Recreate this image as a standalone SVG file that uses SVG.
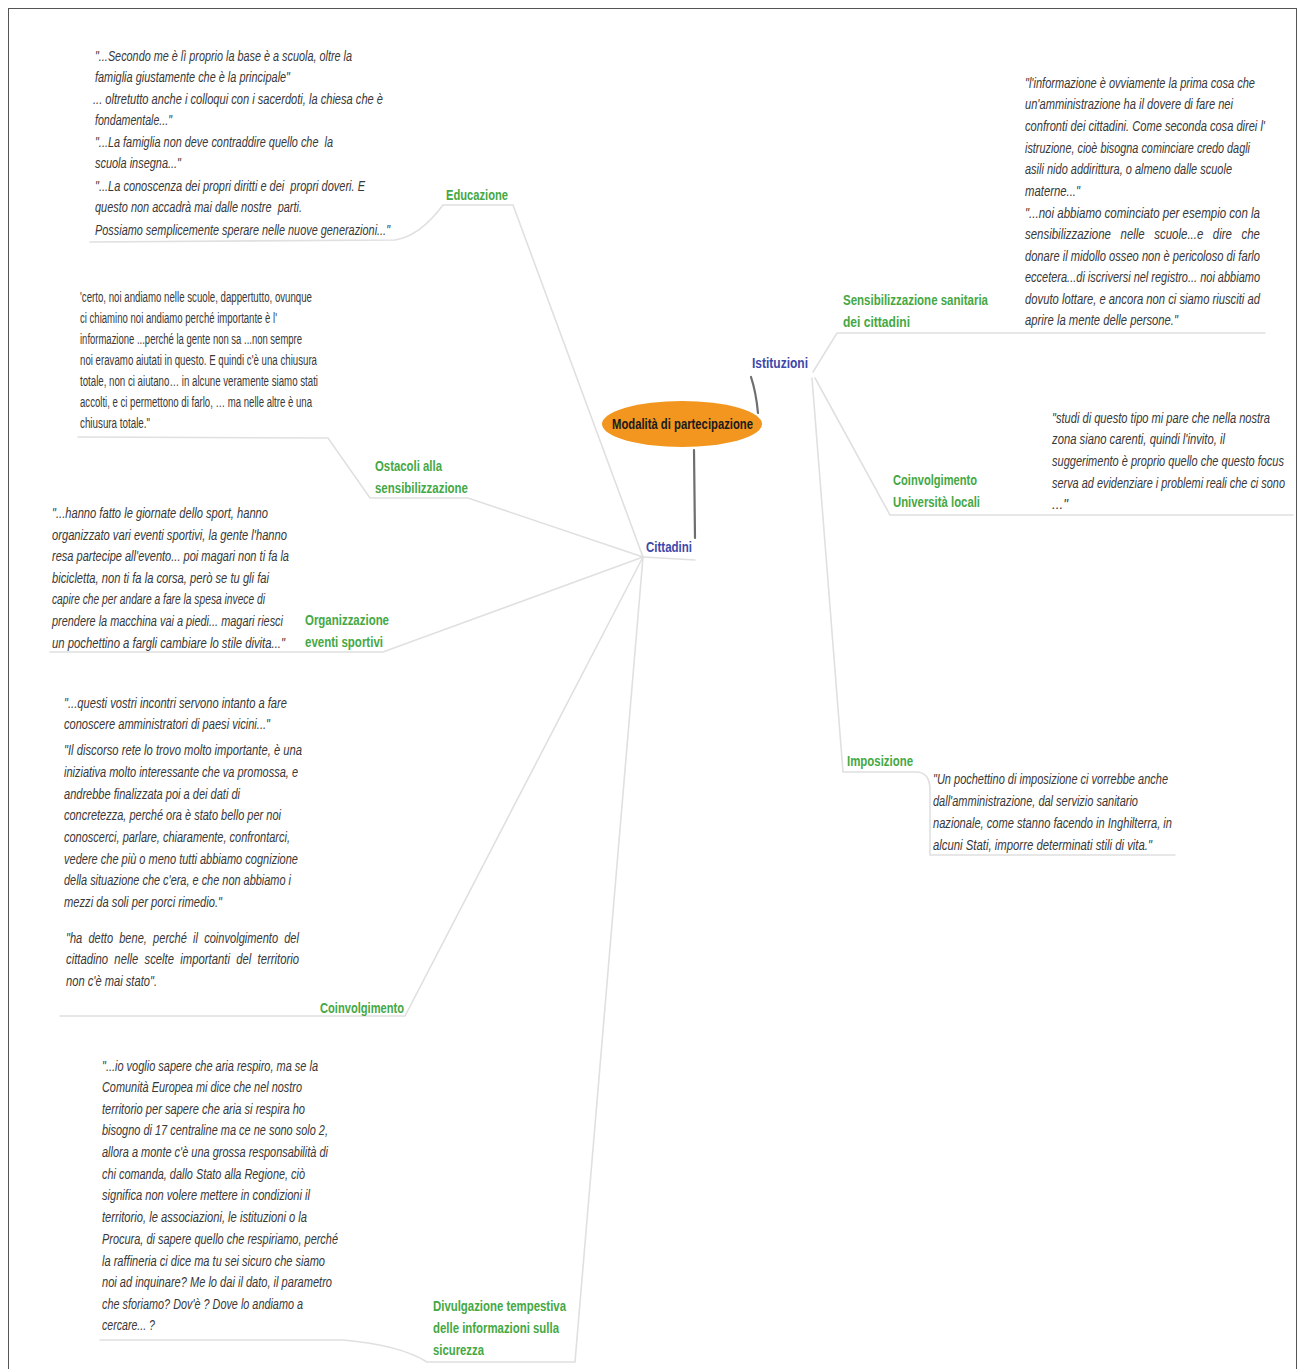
<svg xmlns="http://www.w3.org/2000/svg" width="1298" height="1369" viewBox="0 0 1298 1369">
  <style>
    .q { font-family: "Liberation Sans", Arial, sans-serif; font-size: 14px; font-style: italic; fill: #383838; }
    .qn { font-family: "Liberation Sans", Arial, sans-serif; font-size: 14px; fill: #383838; }
    .pre { white-space: pre; }
    .g { font-family: "Liberation Sans", Arial, sans-serif; font-size: 15px; font-weight: bold; fill: #44a844; }
    .b { font-family: "Liberation Sans", Arial, sans-serif; font-size: 15px; font-weight: bold; fill: #3d47a8; }
    .root { font-family: "Liberation Sans", Arial, sans-serif; font-size: 14px; font-weight: bold; fill: #1a1a1a; }
    .c { fill: none; stroke: #e0e0e0; stroke-width: 1.6; stroke-linecap: round; }
    .d { fill: none; stroke: #6e6e6e; stroke-width: 2.2; stroke-linecap: round; }
  </style>

  <rect x="0" y="0" width="1298" height="1369" fill="#ffffff"/>
  <rect x="8.5" y="8.5" width="1288" height="1380" fill="none" stroke="#555" stroke-width="1"/>

  <!-- connectors -->
  <g id="connectors">
    <path class="d" d="M758,413 Q756,392 751,377"/>
    <path class="d" d="M694,450 L695,538"/>
    <!-- Istituzioni branches -->
    <path class="c" d="M813,372 L837,333 L1265,333"/>
    <path class="c" d="M815,378 L890,515 L1293,515"/>
    <path class="c" d="M812,378 L843,772 L916,772 Q930,772 930,790 L930,855 L1175,855"/>
    <!-- Cittadini branches -->
    <path class="c" d="M643,557 L513,205 L443,205 Q420,236 395,240 L90,242"/>
    <path class="c" d="M643,557 L468,498 L370,498 L328,438 L78,437"/>
    <path class="c" d="M643,557 L383,652 L50,652"/>
    <path class="c" d="M643,557 L405,1016 L60,1016"/>
    <path class="c" d="M643,557 L575,1362 L427,1362 Q400,1345 343,1340 L100,1340"/>
    <path class="c" d="M643,557 L695,560"/>
  </g>

  <!-- root -->
  <g id="node-root">
    <ellipse cx="682" cy="424" rx="80" ry="23" fill="#f2961f"/>
    <text class="root" x="612" y="429" textLength="141" lengthAdjust="spacingAndGlyphs">Modalità di partecipazione</text>
  </g>

  <g id="node-istituzioni">
    <text class="b" x="752" y="368" textLength="56" lengthAdjust="spacingAndGlyphs">Istituzioni</text>
  </g>

  <g id="node-cittadini">
    <text class="b" x="646" y="552" textLength="46" lengthAdjust="spacingAndGlyphs">Cittadini</text>
  </g>

  <!-- Istituzioni children -->
  <g id="node-sensibilizzazione">
    <text class="g" x="843" y="305" textLength="145" lengthAdjust="spacingAndGlyphs">Sensibilizzazione sanitaria</text>
    <text class="g" x="843" y="327" textLength="67" lengthAdjust="spacingAndGlyphs">dei cittadini</text>
  </g>
  <g id="quote-sensibilizzazione">
    <text class="q" x="1025" y="88" textLength="230" lengthAdjust="spacingAndGlyphs">"l'informazione è ovviamente la prima cosa che</text>
    <text class="q" x="1025" y="109" textLength="208" lengthAdjust="spacingAndGlyphs">un'amministrazione ha il dovere di fare nei</text>
    <text class="q" x="1025" y="131" textLength="240" lengthAdjust="spacingAndGlyphs">confronti dei cittadini. Come seconda cosa direi l'</text>
    <text class="q" x="1025" y="153" textLength="225" lengthAdjust="spacingAndGlyphs">istruzione, cioè bisogna cominciare credo dagli</text>
    <text class="q" x="1025" y="174" textLength="207" lengthAdjust="spacingAndGlyphs">asili nido addirittura, o almeno dalle scuole</text>
    <text class="q" x="1025" y="196" textLength="55" lengthAdjust="spacingAndGlyphs">materne..."</text>
    <text class="q" x="1025" y="218" textLength="235" lengthAdjust="spacingAndGlyphs">"...noi abbiamo cominciato per esempio con la</text>
    <text class="q pre" x="1025" y="239" textLength="235" lengthAdjust="spacingAndGlyphs">sensibilizzazione   nelle   scuole...e   dire   che</text>
    <text class="q" x="1025" y="261" textLength="235" lengthAdjust="spacingAndGlyphs">donare il midollo osseo non è pericoloso di farlo</text>
    <text class="q" x="1025" y="282" textLength="235" lengthAdjust="spacingAndGlyphs">eccetera...di iscriversi nel registro... noi abbiamo</text>
    <text class="q" x="1025" y="304" textLength="235" lengthAdjust="spacingAndGlyphs">dovuto lottare, e ancora non ci siamo riusciti ad</text>
    <text class="q" x="1025" y="325" textLength="153" lengthAdjust="spacingAndGlyphs">aprire la mente delle persone."</text>
  </g>

  <g id="node-universita">
    <text class="g" x="893" y="485" textLength="84" lengthAdjust="spacingAndGlyphs">Coinvolgimento</text>
    <text class="g" x="893" y="507" textLength="87" lengthAdjust="spacingAndGlyphs">Università locali</text>
  </g>
  <g id="quote-universita">
    <text class="q" x="1052" y="423" textLength="218" lengthAdjust="spacingAndGlyphs">"studi di questo tipo mi pare che nella nostra</text>
    <text class="q" x="1052" y="444" textLength="173" lengthAdjust="spacingAndGlyphs">zona siano carenti, quindi l'invito, il</text>
    <text class="q" x="1052" y="466" textLength="232" lengthAdjust="spacingAndGlyphs">suggerimento è proprio quello che questo focus</text>
    <text class="q" x="1052" y="488" textLength="233" lengthAdjust="spacingAndGlyphs">serva ad evidenziare i problemi reali che ci sono</text>
    <text class="q" x="1052" y="509" textLength="16" lengthAdjust="spacingAndGlyphs">..."</text>
  </g>

  <g id="node-imposizione">
    <text class="g" x="847" y="766" textLength="66" lengthAdjust="spacingAndGlyphs">Imposizione</text>
  </g>
  <g id="quote-imposizione">
    <text class="q" x="933" y="784" textLength="235" lengthAdjust="spacingAndGlyphs">"Un pochettino di imposizione ci vorrebbe anche</text>
    <text class="q" x="933" y="806" textLength="205" lengthAdjust="spacingAndGlyphs">dall'amministrazione, dal servizio sanitario</text>
    <text class="q" x="933" y="828" textLength="239" lengthAdjust="spacingAndGlyphs">nazionale, come stanno facendo in Inghilterra, in</text>
    <text class="q" x="933" y="850" textLength="219" lengthAdjust="spacingAndGlyphs">alcuni Stati, imporre determinati stili di vita."</text>
  </g>

  <!-- Cittadini children -->
  <g id="node-educazione">
    <text class="g" x="446" y="200" textLength="62" lengthAdjust="spacingAndGlyphs">Educazione</text>
  </g>
  <g id="quote-educazione">
    <text class="q" x="95" y="61" textLength="257" lengthAdjust="spacingAndGlyphs">"...Secondo me è lì proprio la base è a scuola, oltre la</text>
    <text class="q" x="95" y="82" textLength="195" lengthAdjust="spacingAndGlyphs">famiglia giustamente che è la principale"</text>
    <text class="q" x="93" y="104" textLength="290" lengthAdjust="spacingAndGlyphs">... oltretutto anche i colloqui con i sacerdoti, la chiesa che è</text>
    <text class="q" x="95" y="125" textLength="77" lengthAdjust="spacingAndGlyphs">fondamentale..."</text>
    <text class="q pre" x="95" y="147" textLength="238" lengthAdjust="spacingAndGlyphs">"...La famiglia non deve contraddire quello che  la</text>
    <text class="q" x="95" y="168" textLength="86" lengthAdjust="spacingAndGlyphs">scuola insegna..."</text>
    <text class="q pre" x="95" y="191" textLength="270" lengthAdjust="spacingAndGlyphs">"...La conoscenza dei propri diritti e dei  propri doveri. E</text>
    <text class="q pre" x="95" y="212" textLength="207" lengthAdjust="spacingAndGlyphs">questo non accadrà mai dalle nostre  parti.</text>
    <text class="q" x="95" y="235" textLength="295" lengthAdjust="spacingAndGlyphs">Possiamo semplicemente sperare nelle nuove generazioni..."</text>
  </g>

  <g id="node-ostacoli">
    <text class="g" x="375" y="471" textLength="67" lengthAdjust="spacingAndGlyphs">Ostacoli alla</text>
    <text class="g" x="375" y="493" textLength="93" lengthAdjust="spacingAndGlyphs">sensibilizzazione</text>
  </g>
  <g id="quote-ostacoli">
    <text class="qn" x="80" y="302" textLength="232" lengthAdjust="spacingAndGlyphs">'certo, noi andiamo nelle scuole, dappertutto, ovunque</text>
    <text class="qn" x="80" y="323" textLength="197" lengthAdjust="spacingAndGlyphs">ci chiamino noi andiamo perché importante è l'</text>
    <text class="qn" x="80" y="344" textLength="222" lengthAdjust="spacingAndGlyphs">informazione ...perché la gente non sa ...non sempre</text>
    <text class="qn" x="80" y="365" textLength="237" lengthAdjust="spacingAndGlyphs">noi eravamo aiutati in questo. E quindi c'è una chiusura</text>
    <text class="qn" x="80" y="386" textLength="238" lengthAdjust="spacingAndGlyphs">totale, non ci aiutano… in alcune veramente siamo stati</text>
    <text class="qn" x="80" y="407" textLength="232" lengthAdjust="spacingAndGlyphs">accolti, e ci permettono di farlo, … ma nelle altre è una</text>
    <text class="qn" x="80" y="428" textLength="70" lengthAdjust="spacingAndGlyphs">chiusura totale."</text>
  </g>

  <g id="node-organizzazione">
    <text class="g" x="305" y="625" textLength="84" lengthAdjust="spacingAndGlyphs">Organizzazione</text>
    <text class="g" x="305" y="647" textLength="78" lengthAdjust="spacingAndGlyphs">eventi sportivi</text>
  </g>
  <g id="quote-organizzazione">
    <text class="q" x="52" y="518" textLength="216" lengthAdjust="spacingAndGlyphs">"...hanno fatto le giornate dello sport, hanno</text>
    <text class="q" x="52" y="540" textLength="235" lengthAdjust="spacingAndGlyphs">organizzato vari eventi sportivi, la gente l'hanno</text>
    <text class="q" x="52" y="561" textLength="237" lengthAdjust="spacingAndGlyphs">resa partecipe all'evento... poi magari non ti fa la</text>
    <text class="q" x="52" y="583" textLength="217" lengthAdjust="spacingAndGlyphs">bicicletta, non ti fa la corsa, però se tu gli fai</text>
    <text class="q" x="52" y="604" textLength="213" lengthAdjust="spacingAndGlyphs">capire che per andare a fare la spesa invece di</text>
    <text class="q" x="52" y="626" textLength="231" lengthAdjust="spacingAndGlyphs">prendere la macchina vai a piedi... magari riesci</text>
    <text class="q" x="52" y="648" textLength="233" lengthAdjust="spacingAndGlyphs">un pochettino a fargli cambiare lo stile divita..."</text>
  </g>

  <g id="node-coinvolgimento">
    <text class="g" x="320" y="1013" textLength="84" lengthAdjust="spacingAndGlyphs">Coinvolgimento</text>
  </g>
  <g id="quote-coinvolgimento">
    <text class="q" x="64" y="708" textLength="223" lengthAdjust="spacingAndGlyphs">"...questi vostri incontri servono intanto a fare</text>
    <text class="q" x="64" y="729" textLength="206" lengthAdjust="spacingAndGlyphs">conoscere amministratori di paesi vicini..."</text>
    <text class="q" x="64" y="755" textLength="238" lengthAdjust="spacingAndGlyphs">"Il discorso rete lo trovo molto importante, è una</text>
    <text class="q" x="64" y="777" textLength="234" lengthAdjust="spacingAndGlyphs">iniziativa molto interessante che va promossa, e</text>
    <text class="q" x="64" y="799" textLength="176" lengthAdjust="spacingAndGlyphs">andrebbe finalizzata poi a dei dati di</text>
    <text class="q" x="64" y="820" textLength="217" lengthAdjust="spacingAndGlyphs">concretezza, perché ora è stato bello per noi</text>
    <text class="q" x="64" y="842" textLength="226" lengthAdjust="spacingAndGlyphs">conoscerci, parlare, chiaramente, confrontarci,</text>
    <text class="q" x="64" y="864" textLength="234" lengthAdjust="spacingAndGlyphs">vedere che più o meno tutti abbiamo cognizione</text>
    <text class="q" x="64" y="885" textLength="227" lengthAdjust="spacingAndGlyphs">della situazione che c'era, e che non abbiamo i</text>
    <text class="q" x="64" y="907" textLength="158" lengthAdjust="spacingAndGlyphs">mezzi da soli per porci rimedio."</text>
    <text class="q pre" x="66" y="943" textLength="233" lengthAdjust="spacingAndGlyphs">"ha  detto  bene,  perché  il  coinvolgimento  del</text>
    <text class="q pre" x="66" y="964" textLength="233" lengthAdjust="spacingAndGlyphs">cittadino  nelle  scelte  importanti  del  territorio</text>
    <text class="q" x="66" y="986" textLength="91" lengthAdjust="spacingAndGlyphs">non c'è mai stato".</text>
  </g>

  <g id="node-divulgazione">
    <text class="g" x="433" y="1311" textLength="133" lengthAdjust="spacingAndGlyphs">Divulgazione tempestiva</text>
    <text class="g" x="433" y="1333" textLength="126" lengthAdjust="spacingAndGlyphs">delle informazioni sulla</text>
    <text class="g" x="433" y="1355" textLength="51" lengthAdjust="spacingAndGlyphs">sicurezza</text>
  </g>
  <g id="quote-divulgazione">
    <text class="q" x="102" y="1071" textLength="216" lengthAdjust="spacingAndGlyphs">"...io voglio sapere che aria respiro, ma se la</text>
    <text class="q" x="102" y="1092" textLength="200" lengthAdjust="spacingAndGlyphs">Comunità Europea mi dice che nel nostro</text>
    <text class="q" x="102" y="1114" textLength="203" lengthAdjust="spacingAndGlyphs">territorio per sapere che aria si respira ho</text>
    <text class="q" x="102" y="1135" textLength="226" lengthAdjust="spacingAndGlyphs">bisogno di 17 centraline ma ce ne sono solo 2,</text>
    <text class="q" x="102" y="1157" textLength="226" lengthAdjust="spacingAndGlyphs">allora a monte c'è una grossa responsabilità di</text>
    <text class="q" x="102" y="1179" textLength="203" lengthAdjust="spacingAndGlyphs">chi comanda, dallo Stato alla Regione, ciò</text>
    <text class="q" x="102" y="1200" textLength="208" lengthAdjust="spacingAndGlyphs">significa non volere mettere in condizioni il</text>
    <text class="q" x="102" y="1222" textLength="205" lengthAdjust="spacingAndGlyphs">territorio, le associazioni, le istituzioni o la</text>
    <text class="q" x="102" y="1244" textLength="236" lengthAdjust="spacingAndGlyphs">Procura, di sapere quello che respiriamo, perché</text>
    <text class="q" x="102" y="1266" textLength="223" lengthAdjust="spacingAndGlyphs">la raffineria ci dice ma tu sei sicuro che siamo</text>
    <text class="q" x="102" y="1287" textLength="230" lengthAdjust="spacingAndGlyphs">noi ad inquinare? Me lo dai il dato, il parametro</text>
    <text class="q" x="102" y="1309" textLength="201" lengthAdjust="spacingAndGlyphs">che sforiamo? Dov'è ? Dove lo andiamo a</text>
    <text class="q" x="102" y="1330" textLength="53" lengthAdjust="spacingAndGlyphs">cercare... ?</text>
  </g>
</svg>
